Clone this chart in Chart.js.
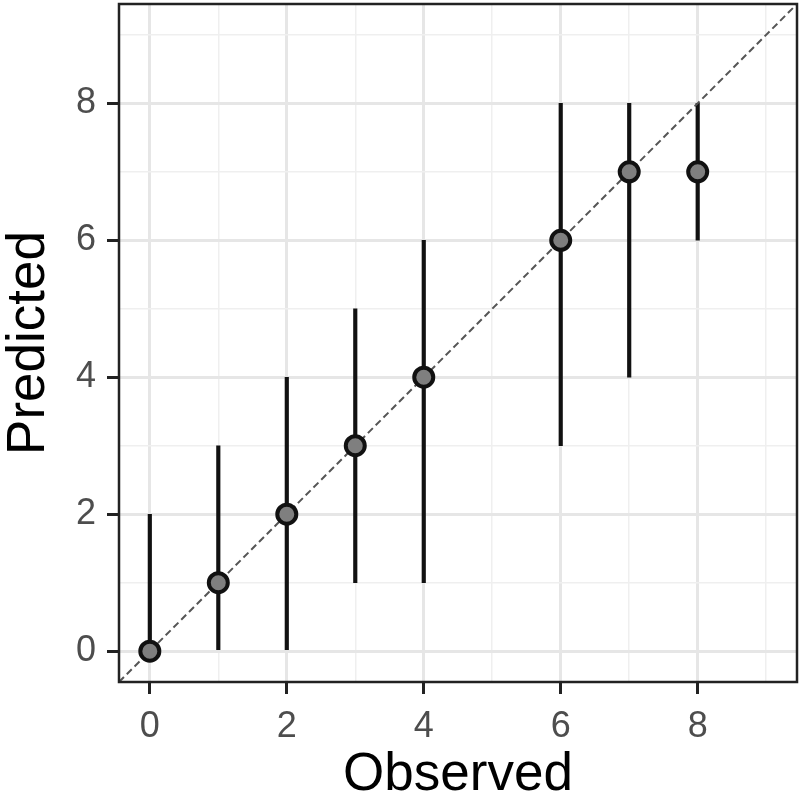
<!DOCTYPE html>
<html>
<head>
<meta charset="utf-8">
<script src="https://cdn.jsdelivr.net/npm/chart.js@4"></script>
<style>
  body { margin: 0; background: #fff; }
  #wrap { width: 800px; height: 805px; }
</style>
</head>
<body>
<div id="wrap"><canvas id="myChart"></canvas></div>
<script>
const observed = [0, 1, 2, 3, 4, 6, 7, 8];
const predicted = [0, 1, 2, 3, 4, 6, 7, 7];
const lower = [0, 0, 0, 1, 1, 3, 4, 6];
const upper = [2, 3, 4, 5, 6, 8, 8, 8];
const axisTicks = [0, 1, 2, 3, 4, 5, 6, 7, 8, 9];
const axisRange = [-0.45, 9.45];

const ctx = document.getElementById('myChart');

// ggplot-style full panel border
const panelBorder = {
  id: 'panelBorder',
  afterDatasetsDraw(chart) {
    const { ctx, chartArea: a } = chart;
    ctx.save();
    ctx.strokeStyle = '#222';
    ctx.lineWidth = 2.5;
    ctx.strokeRect(a.left, a.top, a.right - a.left, a.bottom - a.top);
    ctx.restore();
  }
};

const isMajor = (c) => c.tick && c.tick.value % 2 === 0;

const axis = (title, size) => ({
  type: 'linear',
  min: axisRange[0],
  max: axisRange[1],
  offset: false,
  afterBuildTicks: (scale) => {
    scale.ticks = axisTicks.map(v => ({ value: v }));
  },
  afterFit: (scale) => {
    if (scale.isHorizontal()) scale.height = size; else scale.width = size;
    scale.paddingTop = 0;
    scale.paddingBottom = 0;
    scale.paddingLeft = 0;
    scale.paddingRight = 0;
  },
  grid: {
    offset: false,
    color: (c) => isMajor(c) ? '#e6e6e6' : '#efefef',
    lineWidth: (c) => isMajor(c) ? 3 : 1.5,
    tickColor: (c) => isMajor(c) ? '#222' : 'rgba(0,0,0,0)',
    tickWidth: 3,
    tickLength: 12
  },
  border: { display: false },
  ticks: {
    autoSkip: false,
    maxRotation: 0,
    padding: 11,
    color: '#4d4d4d',
    font: { family: 'Liberation Sans', size: 36 },
    callback: (value) => value % 2 === 0 ? String(value) : ''
  },
  title: {
    display: true,
    text: title,
    color: '#000',
    font: { family: 'Liberation Sans', size: 53, lineHeight: 1 },
    padding: { top: 3, bottom: 3 }
  }
});

new Chart(ctx, {
  type: 'scatter',
  data: {
    datasets: [{
      type: 'scatter',
      label: 'Predicted',
      data: observed.map((x, i) => ({ x: x, y: predicted[i] })),
      pointRadius: 9.5,
      borderWidth: 4,
      backgroundColor: '#7f7f7f',
      borderColor: '#111',
      order: 0
    }, {
      type: 'line',
      label: 'Identity',
      data: axisRange.map(v => ({ x: v, y: v })),
      borderColor: '#555',
      borderWidth: 2,
      borderDash: [7, 4],
      pointRadius: 0,
      fill: false,
      order: 1
    }, {
      type: 'bar',
      label: 'Interval',
      data: observed.map((x, i) => ({ x: x, y: [lower[i], upper[i]] })),
      backgroundColor: '#111',
      borderWidth: 0,
      barThickness: 3.5,
      order: 2
    }]
  },
  options: {
    responsive: true,
    maintainAspectRatio: false,
    animation: false,
    layout: { autoPadding: false, padding: { top: 4, right: 3, left: 0, bottom: 0 } },
    plugins: {
      legend: { display: false },
      tooltip: { enabled: false }
    },
    scales: {
      x: axis('Observed', 123),
      y: axis('Predicted', 119)
    }
  },
  plugins: [panelBorder]
});
</script>
</body>
</html>
